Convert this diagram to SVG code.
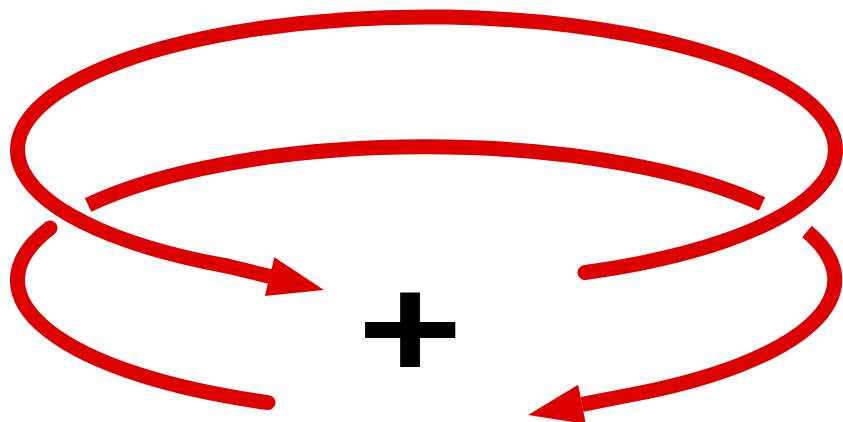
<svg xmlns="http://www.w3.org/2000/svg" width="843" height="422" viewBox="0 0 843 422">
<style>
.coil{fill:none;stroke:#dd0000;stroke-width:15;stroke-linecap:butt}
.rnd{stroke-linecap:round}
.head{fill:#dd0000;stroke:none}
.sign{font-family:"Liberation Sans",Arial,sans-serif;font-weight:bold;font-size:180px;fill:#000}
</style>
<rect width="843" height="422" fill="#fff"/>
<g id="connectors">
<path class="coil rnd" d="M268,402.6 A409,133 0 0 1 50,228"/>
<path class="coil" d="M88,205 A409,133 0 0 1 762,204"/>
<path class="coil" d="M807,231.6 A409,133 0 0 1 630,395 L582,404.4"/>
<path class="coil rnd" d="M585,272.5 A409,133 0 1 0 227,266"/>
<path class="coil" d="M227,266 L272,277"/>
<polygon class="head" points="324,290 274.4,257.2 264.8,296"/>
<polygon class="head" points="528,415 578.2,384.8 585.8,424"/>
</g>
<g id="plus">
<text class="sign" transform="translate(410,330) scale(1,0.81)" x="0" y="60" text-anchor="middle">+</text>
</g>
</svg>
